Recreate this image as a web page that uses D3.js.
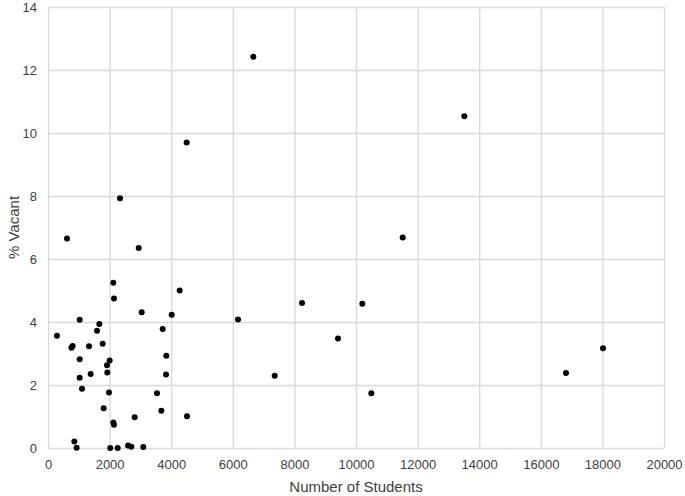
<!DOCTYPE html>
<html>
<head>
<meta charset="utf-8">
<script src="https://cdn.jsdelivr.net/npm/d3@7"></script>
<style>
  html, body { margin: 0; padding: 0; background: #fff; }
  svg { display: block; }
  text { font-family: "Liberation Sans", Arial, sans-serif; }
</style>
</head>
<body>
<svg id="chart" width="685" height="496"></svg>
<script>
// Data: number of students vs % vacant
const students = [
  290, 617, 760, 800, 855, 930, 1028, 1028, 1028, 1104,
  1331, 1385, 1591, 1667, 1775, 1807, 1916, 1926, 1981, 2002,
  2023, 2120, 2120, 2143, 2143, 2262, 2338, 2597, 2705, 2814,
  2944, 3042, 3094, 3539, 3680, 3723, 3841, 3831, 4016, 4275,
  4502, 4513, 6169, 6667, 7360, 8247, 9416, 10205, 10498, 11516,
  13517, 16818, 18019
];
const vacant = [
  3.56, 6.65, 3.18, 3.24, 0.21, 0.01, 4.07, 2.82, 2.23, 1.88,
  3.23, 2.35, 3.72, 3.94, 3.31, 1.26, 2.63, 2.40, 1.76, 2.78,
  0.00, 5.25, 0.81, 4.75, 0.74, 0.00, 7.93, 0.08, 0.04, 0.98,
  6.35, 4.31, 0.03, 1.74, 1.18, 3.78, 2.93, 2.33, 4.23, 5.00,
  9.70, 1.01, 4.08, 12.42, 2.29, 4.60, 3.48, 4.58, 1.74, 6.68,
  10.53, 2.38, 3.17
];
const xTicks = [0, 2000, 4000, 6000, 8000, 10000, 12000, 14000, 16000, 18000, 20000];
const yTicks = [0, 2, 4, 6, 8, 10, 12, 14];
const xTitle = "Number of Students";
const yTitle = "% Vacant";

const points = students.map((s, i) => ({ x: s, y: vacant[i] }));

const svg = d3.select("#chart");
const margin = { left: 48, top: 7, right: 21, bottom: 48 };
const W = 685, H = 496;

const x = d3.scaleLinear().domain([0, 20000]).range([margin.left, W - margin.right]);
const y = d3.scaleLinear().domain([0, 14]).range([H - margin.bottom, margin.top]);

const gridColor = "#d9d9d9";
const textColor = "#404040";

// vertical gridlines
svg.append("g")
  .attr("transform", `translate(0,${H - margin.bottom})`)
  .call(d3.axisBottom(x).tickValues(xTicks).tickSize(-(H - margin.bottom - margin.top)).tickFormat(d => d).tickPadding(12))
  .call(g => g.select(".domain").remove())
  .call(g => g.selectAll(".tick line").attr("stroke", gridColor).attr("stroke-width", 1.3))
  .call(g => g.selectAll(".tick text").attr("fill", textColor).attr("font-size", 13)
    .attr("font-family", "'Liberation Sans', Arial, sans-serif"));

// horizontal gridlines
svg.append("g")
  .attr("transform", `translate(${margin.left},0)`)
  .call(d3.axisLeft(y).tickValues(yTicks).tickSize(-(W - margin.left - margin.right)).tickFormat(d => d).tickPadding(11))
  .call(g => g.select(".domain").remove())
  .call(g => g.selectAll(".tick line").attr("stroke", gridColor).attr("stroke-width", 1.3))
  .call(g => g.selectAll(".tick text").attr("fill", textColor).attr("font-size", 13)
    .attr("font-family", "'Liberation Sans', Arial, sans-serif"));

// points
svg.append("g")
  .selectAll("circle")
  .data(points)
  .join("circle")
  .attr("cx", d => x(d.x))
  .attr("cy", d => y(d.y))
  .attr("r", 3)
  .attr("fill", "#000");

// axis titles
svg.append("text")
  .attr("x", (margin.left + W - margin.right) / 2)
  .attr("y", 492)
  .attr("text-anchor", "middle")
  .attr("font-size", 15)
  .attr("fill", textColor)
  .text(xTitle);

svg.append("text")
  .attr("transform", `translate(19,${(margin.top + H - margin.bottom) / 2}) rotate(-90)`)
  .attr("text-anchor", "middle")
  .attr("font-size", 15)
  .attr("fill", textColor)
  .text(yTitle);
</script>
</body>
</html>
